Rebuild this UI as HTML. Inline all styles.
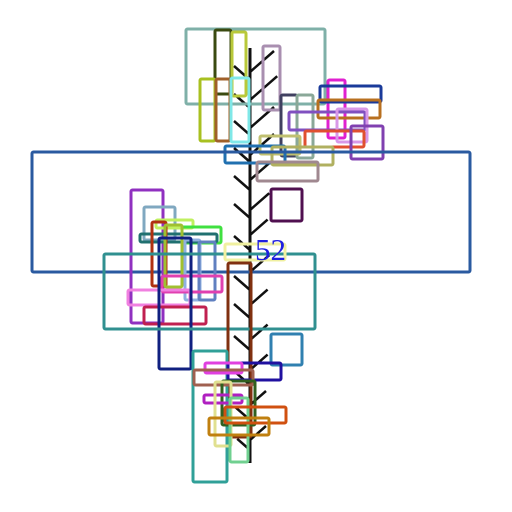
<!DOCTYPE html>
<html><head><meta charset="utf-8"><style>html,body{margin:0;padding:0;background:#fff}svg{display:block}</style></head>
<body>
<svg id="c" width="512" height="512" viewBox="0 0 512 512">
<line x1="250" y1="48" x2="250" y2="463" stroke="#111" stroke-width="3"/>
<g id="branches"></g>
<g id="rects" fill="none" stroke-width="3"></g>
<text x="255" y="260" font-family="'Liberation Serif', serif" font-size="31" fill="#2020e0">52</text>
</svg>
<script>
const branchY=[72,80,100,108,128,135,155,162,180,190,210,218,235,250,272,290,305,318,340,350,370,385,405,420,440,450];
const branchSide=[1,-1,1,-1,1,-1,1,-1,1,-1,1,-1,1,-1,1,-1,1,-1,1,-1,1,-1,1,-1,1,-1];
const branchLen=[30,20,34,20,30,20,30,20,26,20,24,20,22,20,24,20,22,20,22,20,22,18,20,18,20,16];
const rx=[186,215,232,263,200,216,231,281,297,328,320,318,289,337,305,351,260,225,272,257,32,271,131,144,156,182,140,152,165,185,199,162,128,144,159,104,225,228,271,193,228,205,194,222,204,215,230,225,209];
const ry=[29,30,32,46,79,79,78,95,95,80,86,100,112,109,131,126,136,146,147,162,152,189,190,207,220,227,234,222,225,240,242,276,290,307,238,254,244,263,334,351,363,363,370,381,395,382,398,407,418];
const rw=[139,16,14,17,15,14,18,16,16,17,61,62,76,30,59,32,40,60,61,61,438,31,32,31,37,39,77,14,17,15,16,60,62,62,32,211,60,23,31,34,53,37,59,33,38,16,18,61,60];
const rh=[75,64,64,64,62,62,64,61,63,58,16,18,18,33,16,33,18,17,18,19,120,32,133,33,8,16,8,64,62,60,58,16,15,17,131,75,16,174,31,131,17,10,15,44,8,64,64,16,17];
const rc=["#7fb0a8","#3a4a10","#b8c83a","#a98fb0","#a8c020","#a0602a","#80e8e8","#404060","#8aa898","#e020d0","#1a3a9a","#b87020","#8050c0","#d898e8","#e05030","#8040b0","#c0c070","#2070b0","#b0b060","#a08890","#2a5aa0","#501050","#9030c0","#80a8c0","#c0f060","#40e040","#207070","#b03010","#a0c030","#90b0e0","#6080c0","#e040b0","#f080e0","#c02050","#102080","#309090","#f0f0a0","#803010","#3080b0","#30a098","#2010a0","#e040e0","#a06050","#306020","#b020c0","#e0e090","#70d090","#d05010","#c08010"];
const ns="http://www.w3.org/2000/svg";
const bg=document.getElementById('branches');
for(let i=0;i<branchY.length;i++){
  const l=document.createElementNS(ns,'line');
  const s=branchSide[i],L=branchLen[i];
  l.setAttribute('x1',250);l.setAttribute('y1',branchY[i]);
  l.setAttribute('x2',250+s*L*0.8);l.setAttribute('y2',branchY[i]-L*0.7);
  l.setAttribute('stroke','#111');l.setAttribute('stroke-width','2.5');
  
  
  bg.appendChild(l);
}
const rg=document.getElementById('rects');
for(let i=0;i<rx.length;i++){
  const r=document.createElementNS(ns,'rect');
  r.setAttribute('x',rx[i]);r.setAttribute('y',ry[i]);
  r.setAttribute('width',rw[i]);r.setAttribute('height',rh[i]);
  r.setAttribute('stroke',rc[i]);r.setAttribute('rx','1.5');
  
  
  rg.appendChild(r);
}
</script>
</body></html>
